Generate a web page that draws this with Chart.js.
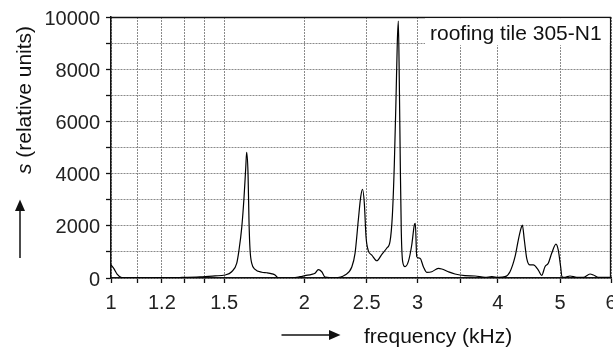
<!DOCTYPE html>
<html>
<head>
<meta charset="utf-8">
<script src="https://cdn.jsdelivr.net/npm/chart.js@4.4.0/dist/chart.umd.min.js"></script>
<style>
  html, body { margin: 0; padding: 0; background: #fff; }
  #wrap { width: 613px; height: 349px; position: relative; }
</style>
</head>
<body>
<div id="wrap"><canvas id="c" width="613" height="349"></canvas></div>
<script>
// ---- data ----
const freqKHz = [1.000, 1.011, 1.022, 1.039, 1.071, 1.150, 1.280, 1.375, 1.452, 1.504,
  1.541, 1.569, 1.582, 1.598, 1.611, 1.621, 1.626, 1.634, 1.640, 1.646,
  1.656, 1.676, 1.717, 1.747, 1.781, 1.800, 1.822, 1.899, 1.969, 2.004,
  2.053, 2.077, 2.102, 2.128, 2.154, 2.232, 2.313, 2.370, 2.398, 2.426,
  2.447, 2.463, 2.479, 2.494, 2.515, 2.546, 2.592, 2.638, 2.686, 2.718,
  2.741, 2.760, 2.777, 2.790, 2.800, 2.810, 2.820, 2.830, 2.844, 2.868,
  2.902, 2.938, 2.965, 2.976, 2.991, 3.027, 3.063, 3.100, 3.157, 3.232,
  3.272, 3.349, 3.430, 3.556, 3.687, 3.821, 3.914, 4.008, 4.105, 4.178,
  4.254, 4.304, 4.346, 4.367, 4.398, 4.436, 4.488, 4.542, 4.624, 4.681,
  4.736, 4.792, 4.851, 4.926, 4.967, 5.009, 5.033, 5.088, 5.180, 5.305,
  5.433, 5.566, 5.633, 5.734, 5.980, 6.000];
const sValues = [500, 350, 150, 20, 5, 10, 20, 40, 80, 115,
  240, 560, 1070, 1960, 3110, 4260, 4814, 4010, 2100, 1070,
  560, 333, 220, 200, 160, 115, 0, 0, 50, 90,
  140, 180, 320, 240, 30, 10, 115, 420, 950, 2220,
  3110, 3400, 2860, 1580, 1040, 880, 660, 900, 1140, 1400,
  2410, 4330, 6880, 9050, 9843, 7520, 4330, 1770, 625, 433,
  625, 1264, 2030, 2095, 815, 755, 433, 218, 240, 370,
  345, 240, 153, 90, 77, 27, 50, 27, 50, 240,
  815, 1455, 1900, 2030, 1455, 755, 500, 500, 306, 100,
  433, 563, 945, 1300, 1070, 433, 50, 27, 77, 27,
  27, 153, 115, 27, 27, 27];
const xGridTicks = [1, 1.1, 1.2, 1.3, 1.4, 1.5, 2, 2.5, 3, 3.5, 4, 5, 6];
const xLabelTicks = [1, 1.2, 1.5, 2, 2.5, 3, 4, 5, 6];
const yMin = 0, yMax = 10000, yStep = 1000, yLabelStep = 2000;
const boxLabel = 'roofing tile 305-N1';
const xTitle = 'frequency (kHz)';
const yTitleItalic = 's';
const yTitleRest = ' (relative units)';

const FONT = '"Liberation Sans", Arial, Helvetica, sans-serif';
const GRID = '#8a8a8a';

const decorPlugin = {
  id: 'decor',
  afterDraw(chart) {
    const ctx = chart.ctx;
    const a = chart.chartArea;
    ctx.save();
    // frame
    ctx.strokeStyle = '#111';
    ctx.lineWidth = 1.3;
    ctx.beginPath();
    ctx.moveTo(a.left, a.top + 0.5);
    ctx.lineTo(a.right - 0.5, a.top + 0.5);
    ctx.lineTo(a.right - 0.5, a.bottom);
    ctx.stroke();
    // label box
    ctx.fillStyle = '#fff';
    const bx = 425, bw = a.right - 1.5 - bx;
    ctx.fillRect(bx, a.top + 1.2, bw, 27);
    ctx.fillStyle = '#111';
    ctx.font = '21px ' + FONT;
    ctx.textBaseline = 'alphabetic';
    ctx.textAlign = 'left';
    ctx.fillText(boxLabel, 430, 39.5);
    // x title
    ctx.fillText(xTitle, 364, 343);
    // y title rotated
    ctx.save();
    ctx.translate(31, 100);
    ctx.rotate(-Math.PI / 2);
    ctx.font = 'italic 21px ' + FONT;
    const w1 = ctx.measureText(yTitleItalic).width;
    ctx.font = '21px ' + FONT;
    const w2 = ctx.measureText(yTitleRest).width;
    const start = -(w1 + w2) / 2;
    ctx.font = 'italic 21px ' + FONT;
    ctx.fillText(yTitleItalic, start, 0);
    ctx.font = '21px ' + FONT;
    ctx.fillText(yTitleRest, start + w1, 0);
    ctx.restore();
    // arrows
    ctx.strokeStyle = '#111';
    ctx.fillStyle = '#111';
    ctx.lineWidth = 1.5;
    ctx.beginPath();
    ctx.moveTo(20, 258);
    ctx.lineTo(20, 208);
    ctx.stroke();
    ctx.beginPath();
    ctx.moveTo(20, 199.5);
    ctx.lineTo(15, 211);
    ctx.lineTo(25, 211);
    ctx.closePath();
    ctx.fill();
    ctx.beginPath();
    ctx.moveTo(281.5, 335);
    ctx.lineTo(332, 335);
    ctx.stroke();
    ctx.beginPath();
    ctx.moveTo(340.5, 335);
    ctx.lineTo(329, 330);
    ctx.lineTo(329, 340);
    ctx.closePath();
    ctx.fill();
    ctx.restore();
  }
};

new Chart(document.getElementById('c'), {
  type: 'line',
  data: {
    datasets: [{
      data: freqKHz.map((f, i) => ({ x: f, y: sValues[i] })),
      borderColor: '#000',
      borderWidth: 1.2,
      pointRadius: 0,
      fill: false,
      cubicInterpolationMode: 'monotone'
    }]
  },
  options: {
    responsive: false,
    animation: false,
    devicePixelRatio: 1,
    layout: { padding: { top: 17, right: 2, left: 0, bottom: 0 } },
    plugins: { legend: { display: false }, tooltip: { enabled: false } },
    scales: {
      x: {
        type: 'logarithmic',
        min: 1, max: 6,
        afterBuildTicks(scale) { scale.ticks = xGridTicks.map(v => ({ value: v })); },
        afterFit(scale) { scale.height = 71; scale.paddingLeft = 0; scale.paddingRight = 0; },
        ticks: {
          autoSkip: false, maxRotation: 0, minRotation: 0,
          padding: 8,
          color: '#222',
          font: { family: FONT, size: 20 },
          callback: (v) => xLabelTicks.includes(v) ? String(v) : ''
        },
        grid: {
          color: GRID, lineWidth: 1,
          tickLength: 5, tickColor: '#111', tickWidth: 1.3, tickBorderDash: []
        },
        border: { display: true, color: '#111', width: 1.5, dash: [2, 1] }
      },
      y: {
        min: yMin, max: yMax,
        afterFit(scale) { scale.width = 111; scale.paddingTop = 0; scale.paddingBottom = 0; },
        ticks: {
          stepSize: yStep,
          autoSkip: false,
          padding: 6,
          labelOffset: 2,
          color: '#222',
          font: { family: FONT, size: 20 },
          callback: (v) => (v % yLabelStep === 0) ? String(v) : ''
        },
        grid: {
          color: GRID, lineWidth: 1,
          tickLength: 5, tickColor: '#111', tickWidth: 1.3, tickBorderDash: []
        },
        border: { display: true, color: '#111', width: 1.5, dash: [2, 1] }
      }
    }
  },
  plugins: [decorPlugin]
});
</script>
</body>
</html>
